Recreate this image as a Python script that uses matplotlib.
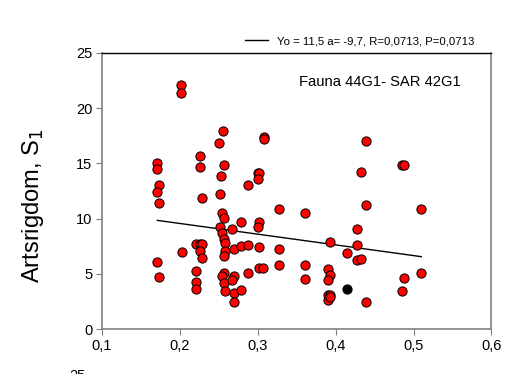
import matplotlib.pyplot as plt

plt.rcParams['font.family'] = ['Liberation Sans', 'DejaVu Sans']

# artsrigdom mot SAR, rode punkter
x_vals = [0.202, 0.202, 0.256, 0.250, 0.308, 0.308, 0.171, 0.171, 0.226, 0.226,
          0.257, 0.253, 0.300, 0.302, 0.300, 0.288, 0.173, 0.171, 0.173, 0.251,
          0.229, 0.439, 0.432, 0.485, 0.488, 0.439, 0.510, 0.327, 0.360, 0.254,
          0.257, 0.278, 0.302, 0.300, 0.251, 0.267, 0.254, 0.257, 0.258, 0.221,
          0.226, 0.229, 0.226, 0.229, 0.203, 0.258, 0.257, 0.269, 0.278, 0.288,
          0.302, 0.327, 0.427, 0.393, 0.427, 0.415, 0.428, 0.432, 0.510, 0.488,
          0.485, 0.439, 0.390, 0.393, 0.390, 0.390, 0.393, 0.390, 0.393, 0.360,
          0.360, 0.327, 0.301, 0.307, 0.288, 0.171, 0.173, 0.221, 0.221, 0.221,
          0.257, 0.254, 0.257, 0.269, 0.267, 0.258, 0.269, 0.269, 0.278]
y_vals = [22.10, 21.35, 17.96, 16.88, 17.42, 17.18, 15.08, 14.47, 15.67, 14.65,
          14.86, 13.86, 14.10, 14.10, 13.61, 13.07, 13.04, 12.44, 11.44, 12.26,
          11.87, 17.03, 14.18, 14.86, 14.86, 11.26, 10.87, 10.87, 10.48, 10.48,
          10.03, 9.66, 9.72, 9.21, 9.27, 9.09, 8.67, 8.15, 7.76, 7.67,
          7.67, 7.67, 7.04, 6.40, 6.95, 7.07, 6.61, 7.22, 7.55, 7.61,
          7.40, 7.25, 9.06, 7.84, 7.65, 6.86, 6.28, 6.37, 5.05, 4.62,
          3.44, 2.42, 5.46, 4.89, 4.44, 3.05, 3.05, 2.63, 2.87, 5.82,
          4.56, 5.84, 5.52, 5.55, 5.05, 6.04, 4.74, 5.25, 4.23, 3.62,
          5.05, 4.83, 4.19, 4.83, 4.44, 3.44, 3.23, 2.42, 3.53]

# svart punkt
x_black = [0.415]
y_black = [3.62]

# regresjon
yo = 11.5
a = -9.7
fit_label = 'Yo = 11,5 a= -9,7, R=0,0713, P=0,0713'
title_text = 'Fauna 44G1- SAR 42G1'

x_ticks = [0.1, 0.2, 0.3, 0.4, 0.5, 0.6]
x_ticklabels = ['0,1', '0,2', '0,3', '0,4', '0,5', '0,6']
y_ticks = [0, 5, 10, 15, 20, 25]

fig = plt.figure(figsize=(5.13, 3.74), dpi=100)
ax = fig.add_axes([0.1988, 0.1203, 0.7592, 0.738])

x_line = [min(x_vals), max(x_vals)]
y_line = [yo + a * v for v in x_line]
ax.plot(x_line, y_line, color='black', lw=1.0, label=fit_label, zorder=2)

ax.scatter(x_vals, y_vals, s=44, c='#ff0000', edgecolors='black', linewidths=0.7, zorder=3)
ax.scatter(x_black, y_black, s=44, c='black', edgecolors='black', linewidths=0.7, zorder=3)

ax.set_xlim(0.1, 0.6)
ax.set_ylim(0, 25)
ax.set_xticks(x_ticks)
ax.set_xticklabels(x_ticklabels)
ax.set_yticks(y_ticks)
ax.tick_params(axis='both', direction='out', length=4, width=0.8, color='#808080',
               labelsize=10.5, pad=3)
for side in ['left', 'bottom', 'right']:
    ax.spines[side].set_color('#808080')
    ax.spines[side].set_linewidth(1.2)
ax.spines['top'].set_color('black')
ax.spines['top'].set_linewidth(1.0)

ax.set_ylabel('Artsrigdom, S$_1$', fontsize=17)
ax.yaxis.set_label_coords(-0.145, 0.446)

ax.text(0.920, 0.895, title_text, transform=ax.transAxes, fontsize=10.6,
        ha='right', va='center')

ax.legend(loc='center right', bbox_to_anchor=(474 / 513, 1 - 41 / 374),
          bbox_transform=fig.transFigure, frameon=False, fontsize=8.2,
          handlelength=2.0, handletextpad=0.8, borderpad=0, borderaxespad=0)

# neste panel sin topp-etikett, delvis synlig
fig.text(0.1500, -0.005, '25', fontsize=10.5, ha='center', va='center')

fig.savefig('out.png', dpi=100)
